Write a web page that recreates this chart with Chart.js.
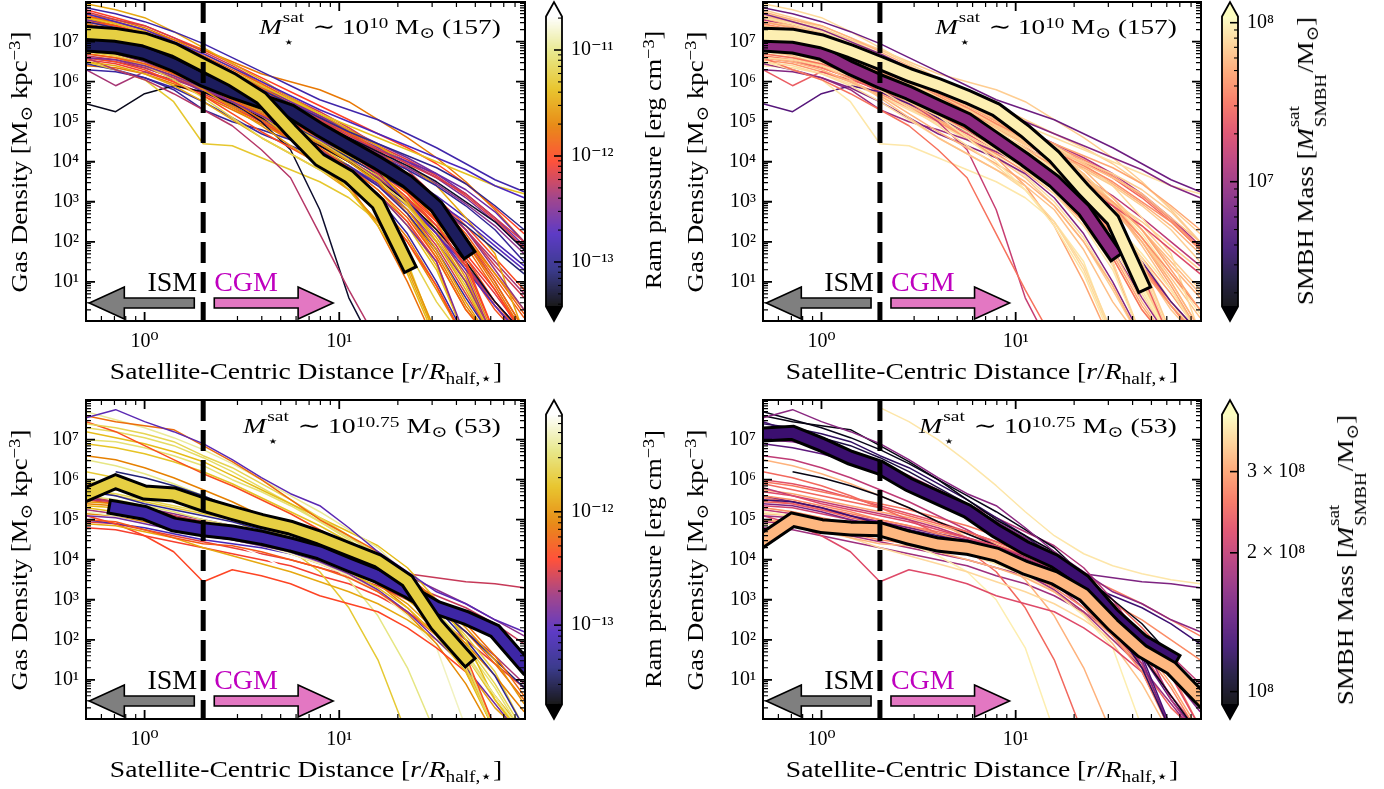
<!DOCTYPE html>
<html>
<head>
<meta charset="utf-8">
<title>Satellite gas density profiles</title>
<script src="https://cdn.jsdelivr.net/npm/chart.js@4.4.1/dist/chart.umd.min.js"></script>
<style>
  html, body { margin: 0; padding: 0; background: #fff; }
  body { position: relative; width: 1384px; height: 789px; overflow: hidden;
         font-family: "Liberation Serif", "DejaVu Serif", serif; color: #000; }
  canvas { position: absolute; }
  .lbl { position: absolute; white-space: nowrap; line-height: 1; }
  .lbl sup { font-size: 0.7em; vertical-align: 0.42em; line-height: 0; }
  .lbl sub { font-size: 0.7em; vertical-align: -0.28em; line-height: 0; }
  .ss { display: inline-block; position: relative; height: 1px; font-size: 0.7em; }
  .ss .up { position: absolute; left: 0.05em; bottom: 0.6em; }
  .ss .dn { position: absolute; left: 0.05em; top: 0.05em; }
</style>
</head>
<body>
<script>
// radial bins (r / R_half,*) shared by every profile
const radiusBins = [0.5, 0.71, 1.0, 1.41, 2.0, 2.82, 3.98, 5.62, 7.94, 11.2, 15.8, 22.4, 31.6, 44.7, 63.1, 89.1];

// M* ~ 10^10 satellites: log10 gas density per bin (same profiles in both top panels)
const lowMassProfiles = [
  [7.70, 7.50, 7.30, 7.00, 6.70, 6.35, 6.00, 5.65, 5.30, 5.00, 4.70, 4.40, 4.10, 3.80, 3.40, 3.10],
  [7.60, 7.45, 7.25, 6.95, 6.60, 6.25, 5.90, 5.55, 5.20, 4.90, 4.60, 4.30, 4.00, 3.70, 3.40, 3.20],
  [7.50, 7.35, 7.10, 6.85, 6.50, 6.15, 5.80, 5.45, 5.10, 4.75, 4.45, 4.15, 3.85, 3.45, 2.90, 2.30],
  [7.40, 7.30, 7.10, 6.80, 6.45, 6.10, 5.75, 5.40, 5.05, 4.65, 4.30, 3.95, 3.60, 3.20, 2.60, 2.00],
  [7.30, 7.15, 6.95, 6.70, 6.40, 6.05, 5.70, 5.35, 4.95, 4.60, 4.25, 3.90, 3.50, 3.00, 2.50, 1.80],
  [7.85, 7.70, 7.50, 7.25, 6.95, 6.60, 6.25, 5.90, 5.55, 5.30, 5.05, 4.70, 4.35, 3.95, 3.55, 3.25],
  [7.20, 7.05, 6.85, 6.60, 6.30, 5.95, 5.60, 5.20, 4.85, 4.50, 4.15, 3.80, 3.40, 2.90, 2.30, 1.50],
  [7.35, 7.20, 7.00, 6.75, 6.40, 6.05, 5.70, 5.30, 4.95, 4.60, 4.30, 4.00, 3.70, 3.30, 2.75, 2.00],
  [7.50, 7.40, 7.20, 6.90, 6.50, 6.10, 5.70, 5.30, 4.90, 4.50, 4.00, 3.40, 2.60, 1.50, -0.3],
  [7.60, 7.40, 7.20, 6.90, 6.55, 6.20, 5.85, 5.45, 5.05, 4.60, 4.10, 3.50, 2.80, 2.00, 1.00, -0.2],
  [7.40, 7.20, 7.00, 6.70, 6.35, 6.00, 5.60, 5.20, 4.80, 4.30, 3.80, 3.00, 2.00, 0.80, -0.5],
  [7.10, 7.00, 6.80, 6.55, 6.20, 5.85, 5.50, 5.10, 4.70, 4.30, 3.90, 3.50, 3.00, 2.30, 1.30, 0.30],
  [7.00, 6.90, 6.70, 6.45, 6.10, 5.75, 5.40, 5.00, 4.60, 4.20, 3.70, 3.10, 2.40, 1.40, -0.3],
  [6.90, 6.80, 6.60, 6.35, 6.00, 5.65, 5.30, 4.90, 4.50, 4.05, 3.55, 2.90, 2.00, 0.90, -0.5],
  [6.80, 6.70, 6.55, 6.30, 5.95, 5.60, 5.25, 4.85, 4.45, 4.00, 3.50, 2.80, 1.80, 0.50, -0.6],
  [7.20, 7.10, 6.90, 6.60, 6.25, 5.90, 5.55, 5.15, 4.70, 4.25, 3.70, 3.00, 2.20, 1.30, 0.40, -0.4],
  [6.70, 6.60, 6.45, 6.20, 5.90, 5.55, 5.20, 4.80, 4.35, 3.85, 3.30, 2.60, 1.60, 0.30, -0.6],
  [6.60, 6.55, 6.40, 6.15, 5.85, 5.50, 5.15, 4.75, 4.30, 3.80, 3.20, 2.40, 1.50, -0.4],
  [7.00, 6.85, 6.65, 6.40, 6.05, 5.70, 5.35, 4.95, 4.50, 4.10, 3.70, 3.30, 2.90, 2.40, 1.80, 1.20],
  [6.90, 6.75, 6.55, 6.30, 5.95, 5.60, 5.25, 4.90, 4.55, 4.20, 3.85, 3.45, 3.00, 2.50, 1.90, 1.30],
  [7.30, 7.10, 6.85, 6.50, 6.10, 5.65, 5.15, 4.60, 4.00, 3.30, 2.40, 1.20, -0.5],
  [7.00, 6.80, 6.55, 6.20, 5.80, 5.35, 4.90, 4.40, 3.90, 3.30, 2.50, 1.40, -0.3],
  [6.80, 6.65, 6.40, 6.05, 5.60, 5.10, 4.60, 4.20, 3.80, 3.40, 2.80, 1.80, 0.50, -0.5],
  [7.10, 6.95, 6.70, 6.35, 5.95, 5.50, 5.05, 4.60, 4.10, 3.40, 2.40, 1.00, -0.6],
  [6.60, 6.50, 6.30, 6.00, 5.65, 5.20, 4.75, 4.35, 3.95, 3.50, 2.90, 2.00, 0.90, -0.5],
  [6.50, 6.40, 6.20, 5.90, 5.50, 5.05, 4.60, 4.20, 3.80, 3.30, 2.50, 1.30, -0.4],
  [6.60, 6.30, 6.05, 5.70, 5.30, 4.90, 4.30, 3.60, 2.20, 0.80, -0.5],
  [7.00, 6.80, 6.60, 6.30, 5.90, 5.50, 5.00, 4.30, 2.80, 0.60, -0.8],
  [6.30, 6.25, 6.10, 5.85, 5.50, 5.10, 4.70, 4.40, 4.10, 3.70, 3.10, 2.20, 1.00, -0.4],
  [6.50, 6.30, 6.05, 5.50, 4.45, 4.40, 4.10, 3.80, 3.50, 3.10, 2.50, 1.50, -0.4],
  [5.45, 5.25, 5.70, 5.90, 5.75, 5.45, 5.10, 4.75, 4.40, 4.00, 3.55, 3.00, 2.30, 1.50, 0.50, -0.3],
  [6.30, 5.90, 6.25, 6.05, 5.80, 5.50, 5.15, 4.80, 4.45, 4.05, 3.60, 3.00, 2.20, 1.20, -0.5],
  [6.45, 6.30, 6.10, 5.80, 5.30, 5.00, 4.80, 4.55, 4.25, 3.90, 3.40, 2.70, 1.80, 0.60, -0.5],
  [7.95, 7.80, 7.60, 7.25, 6.85, 6.45, 6.05, 5.60, 5.20, 4.80, 4.40, 3.95, 3.40, 2.60, 1.70, -0.3],
  [7.75, 7.55, 7.40, 7.10, 6.75, 6.40, 6.00, 5.60, 5.25, 4.85, 4.40, 3.80, 3.10, 2.30, 1.40, 0.60],
  [7.55, 7.40, 7.20, 6.90, 6.60, 6.25, 5.85, 5.50, 5.15, 4.80, 4.45, 4.10, 3.70, 3.20, 2.60, 1.90],
  [7.10, 6.95, 6.75, 6.50, 6.20, 5.85, 5.50, 5.15, 4.80, 4.45, 4.10, 3.65, 3.10, 2.40, 1.60, 0.80],
  [6.95, 6.80, 6.60, 6.35, 6.05, 5.75, 5.40, 5.00, 4.60, 4.20, 3.75, 3.20, 2.50, 1.70, 0.80, -0.4],
  [7.45, 7.25, 7.00, 6.70, 6.35, 6.00, 5.65, 5.25, 4.85, 4.45, 4.00, 3.50, 2.90, 2.10, 1.20, 0.30],
  [6.85, 6.70, 6.50, 6.20, 5.85, 5.45, 5.05, 4.65, 4.25, 3.85, 3.40, 2.80, 2.00, 1.00, -0.5],
  [7.60, 7.50, 7.30, 7.05, 6.80, 6.50, 6.20, 6.00, 5.80, 5.50, 5.05, 4.60, 4.10, 3.50, 2.80, 2.00],
  [7.65, 7.50, 7.30, 7.00, 6.65, 6.30, 5.95, 5.55, 5.15, 4.75, 4.30, 3.70, 2.90, 1.90, 0.80, -0.3],
  [7.35, 7.25, 7.05, 6.75, 6.40, 6.05, 5.65, 5.25, 4.85, 4.40, 3.90, 3.20, 2.30, 1.10, -0.5],
  [7.25, 7.10, 6.90, 6.65, 6.30, 5.95, 5.60, 5.25, 4.90, 4.55, 4.20, 3.85, 3.45, 2.95, 2.40, 1.70],
  [7.05, 6.95, 6.75, 6.50, 6.15, 5.80, 5.45, 5.05, 4.65, 4.25, 3.80, 3.25, 2.55, 1.60, 0.50, -0.4],
  [6.95, 6.85, 6.65, 6.40, 6.05, 5.70, 5.35, 4.95, 4.55, 4.15, 3.65, 2.95, 2.10, 1.00, -0.5],
  [7.45, 7.30, 7.10, 6.85, 6.50, 6.15, 5.80, 5.45, 5.10, 4.75, 4.40, 4.05, 3.65, 3.15, 2.55, 1.85],
  [7.80, 7.60, 7.40, 7.10, 6.80, 6.45, 6.10, 5.75, 5.40, 5.05, 4.70, 4.35, 3.95, 3.45, 2.85, 2.20],
  [7.15, 7.00, 6.80, 6.55, 6.20, 5.85, 5.45, 5.05, 4.60, 4.10, 3.50, 2.70, 1.70, 0.40, -0.6],
  [6.75, 6.65, 6.45, 6.20, 5.90, 5.55, 5.15, 4.75, 4.30, 3.80, 3.20, 2.40, 1.30, -0.4],
  [6.65, 6.55, 6.35, 6.10, 5.80, 5.45, 5.10, 4.75, 4.40, 4.00, 3.55, 3.00, 2.30, 1.40, 0.40, -0.5],
  [7.25, 7.10, 6.90, 6.60, 6.25, 5.90, 5.55, 5.20, 4.85, 4.50, 4.10, 3.60, 2.95, 2.10, 1.10, 0.10],
  [7.55, 7.40, 7.15, 6.85, 6.50, 6.15, 5.75, 5.35, 4.95, 4.55, 4.05, 3.40, 2.50, 1.30, -0.4],
  [6.55, 6.45, 6.25, 6.00, 5.70, 5.35, 5.00, 4.60, 4.20, 3.75, 3.20, 2.50, 1.50, -0.5],
  [7.00, 6.90, 6.70, 6.45, 6.15, 5.80, 5.50, 5.15, 4.80, 4.45, 4.05, 3.60, 3.00, 2.30, 1.50, 0.70],
  [6.40, 6.35, 6.20, 5.95, 5.65, 5.30, 4.95, 4.55, 4.15, 3.65, 3.00, 2.10, 0.90, -0.5],
  [7.35, 7.20, 7.00, 6.70, 6.35, 6.00, 5.65, 5.30, 4.95, 4.60, 4.20, 3.70, 3.00, 2.10, 1.00, -0.2],
  [7.65, 7.45, 7.25, 6.95, 6.60, 6.25, 5.90, 5.50, 5.10, 4.70, 4.25, 3.70, 3.00, 2.20, 1.20, 0.20],
  [6.85, 6.75, 6.55, 6.30, 6.00, 5.65, 5.30, 4.90, 4.50, 4.05, 3.60, 3.05, 2.40, 1.60, 0.70, -0.3],
  [7.20, 7.05, 6.85, 6.55, 6.20, 5.85, 5.50, 5.10, 4.70, 4.25, 3.75, 3.10, 2.20, 1.00, -0.5],
  [6.95, 6.80, 6.60, 6.35, 6.00, 5.60, 5.20, 4.80, 4.40, 3.90, 3.30, 2.50, 1.40, -0.4],
  [7.40, 7.25, 7.05, 6.75, 6.40, 6.10, 5.75, 5.40, 5.05, 4.70, 4.35, 4.00, 3.60, 3.10, 2.50, 1.80],
  [7.10, 6.95, 6.75, 6.45, 6.10, 5.75, 5.40, 5.00, 4.55, 4.05, 3.50, 2.80, 1.90, 0.70, -0.5],
  [6.70, 6.60, 6.40, 6.15, 5.80, 5.40, 5.00, 4.55, 4.10, 3.60, 2.90, 2.00, 0.80, -0.5],
  [7.50, 7.35, 7.15, 6.85, 6.50, 6.15, 5.80, 5.40, 5.00, 4.60, 4.15, 3.60, 2.90, 2.00, 0.90, -0.3],
  [6.60, 6.50, 6.35, 6.10, 5.75, 5.40, 5.05, 4.70, 4.30, 3.90, 3.45, 2.90, 2.20, 1.40, 0.50, -0.3],
  [7.30, 7.15, 6.95, 6.65, 6.30, 5.95, 5.55, 5.15, 4.75, 4.35, 3.85, 3.20, 2.40, 1.40, 0.30, -0.5],
  [6.80, 6.70, 6.50, 6.25, 5.95, 5.60, 5.25, 4.85, 4.45, 4.00, 3.45, 2.70, 1.60, 0.30, -0.5],
  [7.00, 6.85, 6.65, 6.40, 6.10, 5.75, 5.40, 5.05, 4.70, 4.35, 4.00, 3.60, 3.15, 2.60, 2.00, 1.40],
  [7.70, 7.55, 7.35, 7.05, 6.70, 6.35, 5.95, 5.55, 5.15, 4.70, 4.20, 3.50, 2.60, 1.50, 0.40, -0.4]
];
// log10 ram pressure [erg cm^-3] and log10 SMBH mass [Msun] of each profile above
const lowMassPressure = [-12.75, -11.35, -13.00, -12.20, -13.30, -12.85, -12.95, -12.60, -12.00, -11.80,
  -11.50, -12.40, -12.10, -11.30, -11.60, -12.70, -11.90, -12.50, -13.10, -12.70, -11.40, -11.60, -11.20,
  -11.80, -12.00, -11.50, -12.30, -13.30, -12.90, -11.30, -13.35, -12.35, -12.95, -11.50, -12.20, -12.55,
  -12.00, -12.05, -11.65, -12.45, -11.75, -11.85, -11.55, -12.45, -11.95, -11.45, -12.15, -12.05, -11.70,
  -11.35, -12.25, -11.90, -11.60, -12.10, -12.35, -11.75, -12.25, -11.90, -12.15, -11.55, -11.40, -12.50,
  -12.20, -11.65, -11.80, -12.65, -11.95, -11.50, -12.80, -11.70];
const lowMassSmbh = [6.90, 7.92, 7.70, 7.80, 7.60, 6.80, 7.85, 7.85, 7.85, 7.75, 7.95, 7.70, 7.90, 8.00,
  7.80, 7.65, 7.50, 7.90, 7.30, 7.85, 7.95, 7.90, 7.80, 7.70, 7.75, 7.90, 7.50, 7.20, 6.90, 7.95, 6.70,
  7.40, 7.00, 7.90, 7.75, 7.10, 7.85, 7.95, 7.60, 7.85, 7.85, 7.80, 7.88, 7.75, 7.92, 7.98, 7.60, 7.85,
  7.70, 7.95, 7.55, 7.82, 7.88, 7.65, 7.78, 7.92, 7.85, 7.95, 7.70, 7.80, 7.90, 7.45, 7.90, 7.85, 7.70,
  7.35, 7.83, 7.97, 7.15, 7.90];

// M* ~ 10^10.75 satellites
const highMassProfiles = [
  [7.55, 7.75, 7.45, 7.20, 6.90, 6.50, 6.05, 5.65, 5.35, 4.80, 4.20, 3.70, 3.20, 2.90, 2.50, 2.20],
  [7.60, 7.45, 7.35, 7.25, 6.85, 6.45, 6.00, 5.50, 5.00, 4.60, 4.20, 3.60, 3.00, 2.40, 1.60, 0.60],
  [7.70, 7.50, 7.30, 7.05, 6.75, 6.40, 6.00, 5.60, 5.20, 4.75, 4.30, 3.60, 2.60, 1.60, 0.60, -0.4],
  [7.40, 7.30, 7.15, 6.95, 6.60, 6.30, 5.90, 5.50, 5.05, 4.60, 4.05, 3.30, 2.40, 1.30, -0.3],
  [7.45, 7.20, 6.85, 6.50, 6.15, 5.85, 5.50, 5.15, 4.75, 4.35, 3.90, 3.30, 2.50, 1.60, -0.2],
  [7.20, 7.05, 6.90, 6.70, 6.45, 6.10, 5.75, 5.40, 5.05, 4.70, 4.35, 3.80, 3.00, 2.00, 0.50, -0.5],
  [7.00, 6.95, 6.80, 6.60, 6.35, 6.00, 5.70, 5.35, 4.95, 4.55, 4.15, 3.50, 2.60, 1.50, -0.3],
  [null, null, null, null, 7.80, 7.45, 7.00, 6.45, 5.85, 5.20, 4.60, 4.15, 3.85, 3.65, 3.50, 3.40],
  [5.90, 5.75, 5.60, 5.45, 5.30, 5.10, 4.90, 4.70, 4.45, 4.20, 3.90, 3.50, 3.00, 2.30, 1.50, 0.40],
  [5.70, 5.60, 5.40, 5.25, 5.10, 4.95, 4.75, 4.55, 4.35, 4.10, 3.80, 3.40, 2.80, 2.00, 1.10, -0.2],
  [5.50, 5.45, 5.30, 5.10, 4.90, 4.75, 4.60, 4.45, 4.25, 4.00, 3.70, 3.40, 3.10, 2.80, 2.40, 1.90],
  [5.30, 5.20, 5.05, 4.90, 4.75, 4.60, 4.45, 4.25, 4.00, 3.70, 3.30, 2.80, 2.10, 1.20, -0.3],
  [5.10, 5.05, 4.90, 4.75, 4.60, 4.50, 4.35, 4.20, 3.95, 3.65, 3.25, 2.70, 2.00, 1.30, 0.40, -0.5],
  [5.00, 4.95, 4.75, 4.55, 4.40, 4.35, 4.20, 4.00, 3.80, 3.55, 3.20, 2.70, 2.10, 1.30, -0.3],
  [4.90, 4.85, 4.70, 4.55, 4.30, 4.10, 3.90, 3.70, 3.45, 3.20, 2.90, 2.50, 2.00, 1.30, -0.3],
  [5.10, 4.90, 4.60, 4.20, 3.45, 3.75, 3.60, 3.40, 3.10, 2.90, 2.70, 2.30, 1.80, 1.20, -0.2],
  [5.60, 5.50, 5.35, 5.20, 5.00, 4.85, 4.65, 4.45, 4.25, 4.00, 3.70, 3.30, 2.70, 1.80, 0.80, -0.4],
  [5.80, 5.60, 5.45, 5.30, 5.15, 5.00, 4.80, 4.55, 4.30, 4.05, 3.75, 3.20, 2.40, 1.40, -0.3],
  [5.40, 5.35, 5.20, 5.00, 4.85, 4.70, 4.55, 4.40, 4.20, 3.95, 3.60, 3.15, 2.60, 1.90, 1.10, 0.20],
  [5.20, 5.10, 5.00, 4.85, 4.65, 4.50, 4.35, 4.15, 3.90, 3.60, 3.20, 2.60, 1.80, -0.2],
  [5.60, 5.45, 5.30, 5.10, 4.95, 4.80, 4.65, 4.50, 4.30, 4.10, 3.85, 3.65, 3.55, 3.45, 3.40, 3.30],
  [5.00, 4.90, 4.80, 4.65, 4.50, 4.40, 4.30, 4.15, 4.00, 3.80, 3.55, 3.25, 2.90, 2.50, 2.00, 1.50],
  [null, 6.20, 6.05, 5.85, 5.60, 5.30, 4.95, 4.65, 4.35, 4.05, 3.70, 3.30, 2.80, 2.20, 1.50, 0.80],
  [6.20, 6.05, 5.85, 5.60, 5.30, 5.00, 4.65, 4.25, 3.70, 2.80, 1.50, -0.4],
  [6.50, 6.35, 6.15, 5.90, 5.60, 5.30, 4.95, 4.55, 4.10, 3.50, 2.60, 1.30, -0.4],
  [5.30, 5.20, 5.05, 4.85, 4.65, 4.40, 4.10, 3.70, 3.00, 1.80, -0.3],
  [6.60, 6.50, 6.30, 6.05, 5.75, 5.45, 5.10, 4.75, 4.35, 3.90, 3.40, 2.80, 2.10, 1.30, -0.3],
  [4.80, 4.75, 4.60, 4.45, 4.30, 4.15, 4.00, 3.85, 3.60, 3.40, 3.10, 2.70, 2.20, 1.40, -0.2],
  [7.30, 7.20, 7.05, 6.85, 6.55, 6.20, 5.80, 5.40, 4.95, 4.50, 4.00, 3.30, 2.40, 1.30, -0.3],
  [6.90, 6.80, 6.65, 6.45, 6.20, 5.90, 5.55, 5.20, 4.85, 4.45, 4.00, 3.40, 2.60, 1.60, 0.50, -0.4],
  [5.95, 5.85, 5.70, 5.55, 5.40, 5.25, 5.05, 4.85, 4.60, 4.30, 3.95, 3.50, 2.90, 2.10, 1.20, -0.2],
  [5.50, 5.40, 5.25, 5.10, 4.95, 4.80, 4.65, 4.50, 4.30, 4.05, 3.75, 3.35, 2.85, 2.20, 1.40, 0.50],
  [5.25, 5.15, 5.00, 4.85, 4.70, 4.55, 4.40, 4.25, 4.05, 3.85, 3.55, 3.20, 2.75, 2.20, 1.60, 0.90],
  [5.75, 5.65, 5.50, 5.35, 5.20, 5.05, 4.85, 4.65, 4.40, 4.10, 3.75, 3.30, 2.70, 1.90, 0.90, -0.3],
  [5.35, 5.30, 5.15, 5.00, 4.80, 4.65, 4.50, 4.30, 4.10, 3.85, 3.50, 3.00, 2.40, 1.60, 0.60, -0.3],
  [4.95, 4.90, 4.75, 4.60, 4.45, 4.30, 4.15, 4.00, 3.80, 3.60, 3.35, 3.00, 2.55, 2.00, 1.40, 0.80],
  [5.55, 5.45, 5.30, 5.15, 5.00, 4.85, 4.70, 4.55, 4.35, 4.15, 3.90, 3.60, 3.25, 2.90, 2.50, 2.10],
  [6.00, 5.90, 5.75, 5.55, 5.35, 5.15, 4.95, 4.70, 4.45, 4.15, 3.80, 3.30, 2.60, 1.70, 0.60, -0.4],
  [5.15, 5.10, 4.95, 4.80, 4.65, 4.50, 4.35, 4.15, 3.90, 3.60, 3.20, 2.65, 1.90, 0.90, -0.4],
  [5.45, 5.40, 5.25, 5.05, 4.90, 4.75, 4.55, 4.35, 4.10, 3.80, 3.40, 2.90, 2.20, 1.30, 0.30, -0.4]
];
const highMassPressure = [-13.00, -12.20, -11.40, -11.60, -12.35, -11.80, -11.50, -10.95, -12.00, -13.30,
  -12.60, -11.80, -12.90, -12.30, -11.90, -12.40, -11.50, -11.70, -12.10, -11.30, -12.60, -13.10, -13.40,
  -11.70, -11.45, -10.90, -12.10, -12.45, -11.55, -11.75, -11.65, -12.20, -12.70, -11.60, -11.85, -12.50,
  -12.80, -11.50, -12.05, -11.95];
const highMassSmbh = [8.22, 7.99, 8.00, 8.08, 8.12, 8.28, 8.20, 8.57, 8.40, 8.35, 8.10, 8.45, 8.25, 8.50,
  8.55, 8.35, 8.45, 8.30, 8.20, 8.58, 8.20, 8.45, 7.99, 8.40, 8.50, 8.58, 8.30, 8.25, 8.05, 8.15, 8.42,
  8.38, 8.30, 8.48, 8.33, 8.27, 8.43, 8.36, 8.52, 8.40];

// median (thick) profiles, log10 density, and the colour value of each
const tlLowPressureMedian  = [6.93, 6.88, 6.72, 6.43, 6.05, 5.76, 5.51, 5.26, 4.80, 4.38, 3.97, 3.51, 2.88, 1.80];
const tlHighPressureMedian = [7.22, 7.17, 7.05, 6.80, 6.42, 6.05, 5.59, 4.80, 4.05, 3.63, 2.95, 1.45];
const tlMedianPressure = [-13.17, -11.23];
const trLowSmbhMedian  = [6.93, 6.88, 6.72, 6.34, 6.01, 5.72, 5.38, 5.05, 4.55, 4.05, 3.51, 2.80, 1.75];
const trHighSmbhMedian = [7.17, 7.15, 7.01, 6.76, 6.47, 6.17, 5.92, 5.63, 5.30, 4.76, 4.13, 3.30, 2.55, 0.95];
const trMedianSmbh = [6.945, 7.985];
const blLowPressureMedian  = [null, 5.30, 5.17, 4.88, 4.76, 4.68, 4.55, 4.38, 4.18, 3.88, 3.59, 3.22, 2.80, 2.55, 2.22, 1.38];
const blHighPressureMedian = [5.63, 5.95, 5.68, 5.63, 5.38, 5.17, 4.97, 4.80, 4.55, 4.26, 3.97, 3.47, 2.38, 1.55];
const blMedianPressure = [-13.19, -11.65];
const brLowSmbhMedian  = [7.13, 7.17, 6.88, 6.55, 6.30, 5.88, 5.55, 5.22, 4.72, 4.30, 3.97, 3.47, 2.63, 1.97, 1.55];
const brHighSmbhMedian = [4.50, 5.00, 4.84, 4.78, 4.76, 4.55, 4.38, 4.30, 4.13, 3.80, 3.55, 3.13, 2.38, 1.72, 1.30, 0.55];
const brMedianSmbh = [8.098, 8.507];

// axis ticks and labels
const distanceTicks = [1, 10];
const distanceTickLabels = ['10⁰', '10¹'];
const densityTicks = [1e1, 1e2, 1e3, 1e4, 1e5, 1e6, 1e7];
const densityTickLabels = ['10¹', '10²', '10³', '10⁴', '10⁵', '10⁶', '10⁷'];
const tlPressureTicks = [1e-11, 1e-12, 1e-13];
const tlPressureTickLabels = ['10⁻¹¹', '10⁻¹²', '10⁻¹³'];
const blPressureTicks = [1e-12, 1e-13];
const blPressureTickLabels = ['10⁻¹²', '10⁻¹³'];
const trSmbhTicks = [1e8, 1e7];
const trSmbhTickLabels = ['10⁸', '10⁷'];
const brSmbhTicks = [3e8, 2e8, 1e8];
const brSmbhTickLabels = ['3 × 10⁸', '2 × 10⁸', '10⁸'];

// colour bar limits (log10)
const tlPressureRange = [-13.42, -10.684];
const blPressureRange = [-13.70, -11.142];
const trSmbhRange = [6.215, 8.039];
const brSmbhRange = [7.972, 8.601];

const ismBoundary = 2;

const FONT = '"Liberation Serif", "DejaVu Serif", serif';
Chart.defaults.font.family = FONT;
Chart.defaults.font.size = 20;
Chart.defaults.color = '#000';

// colour maps
const cmrNodes = [[0, 0, 0], [.15, .15, .5], [.3, .15, .75], [.6, .2, .5], [1, .25, .15],
  [.9, .5, 0], [.9, .75, .1], [.9, .9, .5], [1, 1, 1]];
const magmaNodes = ['#000004', '#140e36', '#3b0f70', '#641a80', '#8c2981', '#b73779',
  '#de4968', '#f7705c', '#fe9f6d', '#fecf92', '#fcfdbf']
  .map(h => [1, 3, 5].map(k => parseInt(h.slice(k, k + 2), 16) / 255));

function makeCmap(nodes) {
  return f => {
    const t = Math.min(1, Math.max(0, f)) * (nodes.length - 1);
    const i = Math.min(nodes.length - 2, Math.floor(t)), u = t - i;
    const c = nodes[i].map((v, k) => Math.round(255 * (v + (nodes[i + 1][k] - v) * u)));
    return 'rgb(' + c[0] + ',' + c[1] + ',' + c[2] + ')';
  };
}
const cmrMap = makeCmap(cmrNodes);
const magmaMap = makeCmap(magmaNodes);

function toPoints(logs) {
  return radiusBins.map((r, i) => ({ x: r, y: logs[i] == null ? null : Math.pow(10, logs[i]) }));
}

function logSteps(min, max) {
  const out = [];
  for (let e = Math.floor(Math.log10(min)); e <= Math.ceil(Math.log10(max)); e++) {
    for (let k = 1; k < 10; k++) {
      const v = k * Math.pow(10, e);
      if (v >= min * 0.999 && v <= max * 1.001) out.push({ v: v, major: k === 1 });
    }
  }
  return out;
}

function zeroPad(s) { s.paddingTop = 0; s.paddingBottom = 0; s.paddingLeft = 0; s.paddingRight = 0; }

function arrow(ctx, x0, x1, yc, fill) {
  const dir = Math.sign(x1 - x0), xh = x1 - dir * 35;
  ctx.beginPath();
  ctx.moveTo(x0, yc - 5); ctx.lineTo(xh, yc - 5); ctx.lineTo(xh, yc - 16); ctx.lineTo(x1, yc);
  ctx.lineTo(xh, yc + 16); ctx.lineTo(xh, yc + 5); ctx.lineTo(x0, yc + 5); ctx.closePath();
  ctx.fillStyle = fill; ctx.fill();
  ctx.lineWidth = 1.6; ctx.strokeStyle = '#000'; ctx.lineJoin = 'miter'; ctx.stroke();
}

// dashed ISM/CGM boundary, arrows, frame and inward ticks
const axesDecor = {
  id: 'axesDecor',
  afterDatasetsDraw(chart) {
    const { ctx, chartArea: a, scales: { x, y } } = chart;
    ctx.save();
    const xb = x.getPixelForValue(ismBoundary);
    ctx.strokeStyle = '#000';
    ctx.lineWidth = 5;
    ctx.setLineDash([21, 9]);
    ctx.beginPath(); ctx.moveTo(xb, a.top); ctx.lineTo(xb, a.bottom); ctx.stroke();
    ctx.setLineDash([]);

    const ya = a.bottom - 18;
    arrow(ctx, x.getPixelForValue(1.8), x.getPixelForValue(0.52), ya, '#7f7f7f');
    arrow(ctx, x.getPixelForValue(2.28), x.getPixelForValue(9.3), ya, '#e377c2');
    ctx.font = '28px ' + FONT;
    ctx.textBaseline = 'alphabetic';
    ctx.textAlign = 'right'; ctx.fillStyle = '#000';
    ctx.fillText('ISM', xb - 6, a.bottom - 30);
    ctx.textAlign = 'left'; ctx.fillStyle = '#bf00bf';
    ctx.fillText('CGM', xb + 11, a.bottom - 30);

    ctx.strokeStyle = '#000';
    ctx.lineWidth = 2;
    ctx.strokeRect(a.left, a.top, a.right - a.left, a.bottom - a.top);
    logSteps(x.min, x.max).forEach(t => {
      const px = x.getPixelForValue(t.v), len = t.major ? 9 : 5;
      ctx.lineWidth = t.major ? 1.8 : 1.2;
      ctx.beginPath();
      ctx.moveTo(px, a.bottom); ctx.lineTo(px, a.bottom - len);
      ctx.moveTo(px, a.top); ctx.lineTo(px, a.top + len);
      ctx.stroke();
    });
    logSteps(y.min, y.max).forEach(t => {
      const py = y.getPixelForValue(t.v), len = t.major ? 9 : 5;
      ctx.lineWidth = t.major ? 1.8 : 1.2;
      ctx.beginPath();
      ctx.moveTo(a.left, py); ctx.lineTo(a.left + len, py);
      ctx.moveTo(a.right, py); ctx.lineTo(a.right - len, py);
      ctx.stroke();
    });
    ctx.restore();
  }
};

// colour bar: gradient, extension triangles, outline, inward ticks
const colourbarDraw = {
  id: 'colourbarDraw',
  afterDraw(chart, args, o) {
    const { ctx, chartArea: a, scales: { y } } = chart;
    const lo = Math.log10(y.min), hi = Math.log10(y.max);
    const mid = (a.left + a.right) / 2, ext = o.ext;
    ctx.save();
    for (let py = a.top; py < a.bottom; py += 1) {
      const v = Math.log10(y.getValueForPixel(py + 0.5));
      ctx.fillStyle = o.cmap((v - lo) / (hi - lo));
      ctx.fillRect(a.left, py, a.right - a.left, 1.3);
    }
    ctx.fillStyle = o.cmap(1);
    ctx.beginPath(); ctx.moveTo(a.left, a.top + 0.5); ctx.lineTo(mid, a.top - ext); ctx.lineTo(a.right, a.top + 0.5); ctx.fill();
    ctx.fillStyle = o.cmap(0);
    ctx.beginPath(); ctx.moveTo(a.left, a.bottom - 0.5); ctx.lineTo(mid, a.bottom + ext); ctx.lineTo(a.right, a.bottom - 0.5); ctx.fill();
    ctx.strokeStyle = '#000'; ctx.lineWidth = 1.8; ctx.lineJoin = 'miter';
    ctx.beginPath();
    ctx.moveTo(a.left, a.top); ctx.lineTo(mid, a.top - ext); ctx.lineTo(a.right, a.top);
    ctx.lineTo(a.right, a.bottom); ctx.lineTo(mid, a.bottom + ext); ctx.lineTo(a.left, a.bottom);
    ctx.closePath(); ctx.stroke();
    const ticks = o.minor ? logSteps(y.min, y.max) : y.ticks.map(t => ({ v: t.value, major: true }));
    ticks.forEach(t => {
      const py = y.getPixelForValue(t.v), len = t.major ? 8 : 4;
      ctx.lineWidth = t.major ? 1.6 : 1.1;
      ctx.beginPath(); ctx.moveTo(a.right, py); ctx.lineTo(a.right - len, py); ctx.stroke();
    });
    ctx.restore();
  }
};

function addCanvas(left, top, w, h) {
  const cv = document.createElement('canvas');
  cv.width = w; cv.height = h;
  cv.style.left = left + 'px'; cv.style.top = top + 'px';
  cv.style.width = w + 'px'; cv.style.height = h + 'px';
  document.body.appendChild(cv);
  return cv;
}

function makePanel(p) {
  const yAxisW = 62, xAxisH = 32;
  const w = p.area.R - p.left + 20, h = p.area.B - p.top + 40;
  const cv = addCanvas(p.left, p.top, w, h);
  const datasets = [];
  p.profiles.forEach((logs, i) => {
    datasets.push({
      data: toPoints(logs),
      borderColor: p.cmap((p.values[i] - p.range[0]) / (p.range[1] - p.range[0])),
      borderWidth: 1.5, borderJoinStyle: 'round', order: 10, clip: 0
    });
  });
  const nb = p.bands.length;
  p.bands.forEach((logs, j) => {
    const pts = toPoints(logs);
    const col = p.cmap((p.bandValues[j] - p.range[0]) / (p.range[1] - p.range[0]));
    datasets.push({ data: pts, borderColor: '#000', borderWidth: 16, borderCapStyle: 'square',
      borderJoinStyle: 'miter', order: 2 * (nb - j), clip: 0 });
    datasets.push({ data: pts, borderColor: col, borderWidth: 10, borderCapStyle: 'square',
      borderJoinStyle: 'miter', order: 2 * (nb - j) - 1, clip: 0 });
  });
  return new Chart(cv, {
    type: 'line',
    data: { datasets: datasets },
    options: {
      animation: false, responsive: false, devicePixelRatio: 1,
      layout: {
        autoPadding: false,
        padding: { left: p.area.L - p.left - yAxisW, top: p.area.T - p.top, right: w - (p.area.R - p.left),
                   bottom: h - (p.area.B - p.top) - xAxisH }
      },
      elements: { point: { radius: 0 }, line: { tension: 0 } },
      plugins: { legend: { display: false }, tooltip: { enabled: false } },
      scales: {
        x: {
          type: 'logarithmic', min: 0.5, max: 90,
          grid: { display: false, drawTicks: false }, border: { display: false },
          ticks: { padding: 9, maxRotation: 0, autoSkip: false, callback: (v, i) => distanceTickLabels[i] },
          afterBuildTicks: s => { s.ticks = distanceTicks.map(v => ({ value: v })); },
          afterFit: s => { s.height = xAxisH; zeroPad(s); }
        },
        y: {
          type: 'logarithmic', min: 1.05, max: 9.8e7,
          grid: { display: false, drawTicks: false }, border: { display: false },
          ticks: { padding: 7, autoSkip: false, callback: (v, i) => densityTickLabels[i] },
          afterBuildTicks: s => { s.ticks = densityTicks.map(v => ({ value: v })); },
          afterFit: s => { s.width = yAxisW; zeroPad(s); }
        }
      }
    },
    plugins: [axesDecor]
  });
}

function makeColourbar(c) {
  const ext = 14.5, barW = 16;
  const cv = addCanvas(c.left, c.top, c.width, 323);
  return new Chart(cv, {
    type: 'scatter',
    data: { datasets: [] },
    options: {
      animation: false, responsive: false, devicePixelRatio: 1,
      layout: { autoPadding: false, padding: { left: 2, right: 0, top: 2 + ext, bottom: 2 + ext } },
      plugins: { legend: { display: false }, tooltip: { enabled: false },
                 colourbarDraw: { cmap: c.cmap, ext: ext, minor: c.minor } },
      scales: {
        x: { display: false },
        y: {
          type: 'logarithmic', position: 'right',
          min: Math.pow(10, c.range[0]), max: Math.pow(10, c.range[1]),
          grid: { display: false, drawTicks: false }, border: { display: false },
          ticks: { padding: 9, autoSkip: false, callback: (v, i) => c.labels[i] },
          afterBuildTicks: s => { s.ticks = c.ticks.map(v => ({ value: v })); },
          afterFit: s => { s.width = c.width - 2 - barW; zeroPad(s); }
        }
      }
    },
    plugins: [colourbarDraw]
  });
}

makePanel({ left: 0, top: 0, area: { L: 86, T: 2, R: 525, B: 321 }, profiles: lowMassProfiles,
  values: lowMassPressure, range: tlPressureRange, cmap: cmrMap,
  bands: [tlLowPressureMedian, tlHighPressureMedian], bandValues: tlMedianPressure });
makePanel({ left: 690, top: 0, area: { L: 763, T: 2, R: 1201, B: 321 }, profiles: lowMassProfiles,
  values: lowMassSmbh, range: trSmbhRange, cmap: magmaMap,
  bands: [trLowSmbhMedian, trHighSmbhMedian], bandValues: trMedianSmbh });
makePanel({ left: 0, top: 398, area: { L: 86, T: 400, R: 525, B: 719 }, profiles: highMassProfiles,
  values: highMassPressure, range: blPressureRange, cmap: cmrMap,
  bands: [blLowPressureMedian, blHighPressureMedian], bandValues: blMedianPressure });
makePanel({ left: 690, top: 398, area: { L: 763, T: 400, R: 1201, B: 719 }, profiles: highMassProfiles,
  values: highMassSmbh, range: brSmbhRange, cmap: magmaMap,
  bands: [brLowSmbhMedian, brHighSmbhMedian], bandValues: brMedianSmbh });

makeColourbar({ left: 544, top: 0, width: 100, range: tlPressureRange, cmap: cmrMap, minor: true,
  ticks: tlPressureTicks, labels: tlPressureTickLabels });
makeColourbar({ left: 1220, top: 0, width: 90, range: trSmbhRange, cmap: magmaMap, minor: true,
  ticks: trSmbhTicks, labels: trSmbhTickLabels });
makeColourbar({ left: 544, top: 398, width: 100, range: blPressureRange, cmap: cmrMap, minor: true,
  ticks: blPressureTicks, labels: blPressureTickLabels });
makeColourbar({ left: 1220, top: 398, width: 125, range: brSmbhRange, cmap: magmaMap, minor: false,
  ticks: brSmbhTicks, labels: brSmbhTickLabels });

// text labels
function addLabel(html, cx, cy, size, length, rotate) {
  const el = document.createElement('div');
  el.className = 'lbl';
  el.style.fontSize = size + 'px';
  el.innerHTML = html;
  document.body.appendChild(el);
  const stretch = length / el.offsetWidth;
  el.style.left = cx + 'px';
  el.style.top = cy + 'px';
  el.style.transform = 'translate(-50%, -50%)' + (rotate ? ' rotate(-90deg)' : '') +
    ' scaleX(' + stretch.toFixed(3) + ')';
}

const xTitle = 'Satellite-Centric Distance [<i>r</i>/<i>R</i><sub>half,⋆</sub>]';
const yTitle = 'Gas Density [M<sub>⊙</sub> kpc<sup>−3</sup>]';
const pressureTitle = 'Ram pressure [erg cm<sup>−3</sup>]';
const smbhTitle = 'SMBH Mass [<i>M</i><span class="ss" style="width:2.95em"><span class="up">sat</span>' +
  '<span class="dn">SMBH</span></span>/M<sub>⊙</sub>]';
const mstar = '<i>M</i><span class="ss" style="width:1.25em"><span class="up">sat</span><span class="dn">⋆</span></span>';
const lowMassNote = mstar + ' ∼ 10<sup>10</sup> M<sub>⊙</sub> (157)';
const highMassNote = mstar + ' ∼ 10<sup>10.75</sup> M<sub>⊙</sub> (53)';

[[305.5, 371], [981.5, 371], [305.5, 769], [981.5, 769]].forEach(p => addLabel(xTitle, p[0], p[1], 24, 392, false));
[[19, 161.5], [695, 161.5], [19, 559.5], [695, 559.5]].forEach(p => addLabel(yTitle, p[0], p[1], 24, 261, true));
addLabel(pressureTitle, 653, 160, 24, 259, true);
addLabel(pressureTitle, 653, 559, 24, 258, true);
addLabel(smbhTitle, 1305, 161, 24, 288, true);
addLabel(smbhTitle, 1345, 560, 24, 290, true);
addLabel(lowMassNote, 380, 27, 22, 242, false);
addLabel(lowMassNote, 1056, 27, 22, 242, false);
addLabel(highMassNote, 372, 426, 22, 258, false);
addLabel(highMassNote, 1048, 426, 22, 258, false);
</script>
</body>
</html>
